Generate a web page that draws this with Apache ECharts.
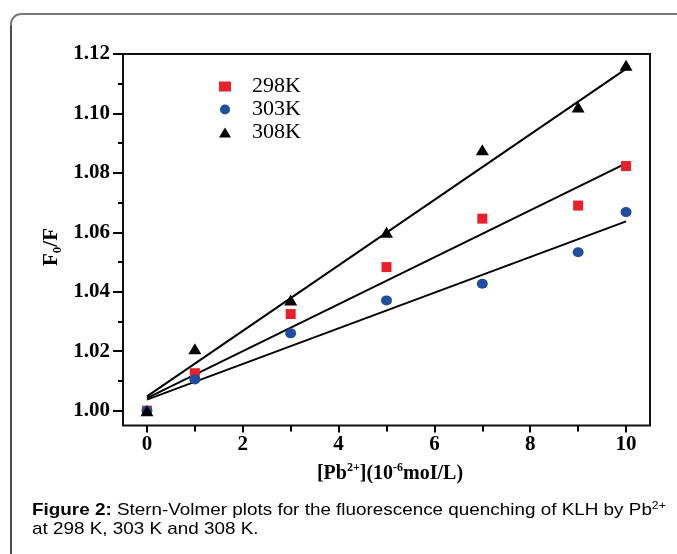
<!DOCTYPE html>
<html>
<head>
<meta charset="utf-8">
<script src="https://cdn.jsdelivr.net/npm/echarts@6/dist/echarts.min.js"></script>
<style>
html,body{margin:0;padding:0;background:#fff;}
#chart{width:677px;height:554px;}
</style>
</head>
<body>
<div id="chart"></div>
<script>
// ---- data ----
const concentrations = [0, 1, 3, 5, 7, 9, 10];
const f298 = [1.000, 1.0126, 1.0325, 1.0483, 1.0646, 1.0690, 1.0823];
const f303 = [1.000, 1.0105, 1.0260, 1.0371, 1.0427, 1.0533, 1.0668];
const f308 = [1.000, 1.0208, 1.0372, 1.0600, 1.0878, 1.1022, 1.1162];
// fitted straight lines, end points
const fitX = [0, 10];
const fit298 = [1.0042, 1.0832];
const fit303 = [1.0037, 1.0637];
const fit308 = [1.0048, 1.1150];
const seriesNames = ['298K', '303K', '308K'];
const xTickLabels = [0, 2, 4, 6, 8, 10];
const xMinorTicks = [1, 3, 5, 7, 9];
const yTickLabels = [1.00, 1.02, 1.04, 1.06, 1.08, 1.10, 1.12];
const yMinorTicks = [1.01, 1.03, 1.05, 1.07, 1.09, 1.11];

const pair = (xs, ys) => xs.map((x, i) => [x, ys[i]]);
const SERIF = 'Liberation Serif';
const SANS = 'Liberation Sans';

const chart = echarts.init(document.getElementById('chart'), null, {renderer: 'canvas'});

const tickStyle = {color: '#000', width: 2};

const option = {
  animation: false,
  backgroundColor: '#fff',
  grid: {
    left: 123, top: 54, right: 27, bottom: 128.5,
    show: true, borderColor: '#111', borderWidth: 2, backgroundColor: 'transparent'
  },
  legend: {
    orient: 'vertical',
    left: 219, top: 75,
    padding: 0,
    itemGap: 0,
    itemWidth: 12, itemHeight: 10,
    textStyle: {fontFamily: SERIF, fontSize: 22, color: '#000', lineHeight: 23, padding: [0, 0, 0, 16]},
    data: [
      {name: seriesNames[0], icon: 'rect'},
      {name: seriesNames[1], icon: 'circle'},
      {name: seriesNames[2], icon: 'triangle'}
    ]
  },
  xAxis: [
    {
      type: 'value', min: -0.5, max: 10.5, position: 'bottom',
      axisLine: {show: false, onZero: false},
      splitLine: {show: false},
      axisTick: {show: true, customValues: xTickLabels, length: 7, lineStyle: tickStyle},
      axisLabel: {customValues: xTickLabels, margin: 9, fontFamily: SERIF, fontWeight: 'bold', fontSize: 21, color: '#000'}
    },
    {
      type: 'value', min: -0.5, max: 10.5, position: 'bottom',
      axisLine: {show: false, onZero: false},
      splitLine: {show: false},
      axisTick: {show: true, customValues: xMinorTicks, length: 6, lineStyle: tickStyle},
      axisLabel: {show: false}
    }
  ],
  yAxis: [
    {
      type: 'value', min: 0.995, max: 1.12, position: 'left',
      axisLine: {show: false, onZero: false},
      splitLine: {show: false},
      axisTick: {show: true, customValues: yTickLabels, length: 10, lineStyle: tickStyle},
      axisLabel: {customValues: yTickLabels, margin: 13, fontFamily: SERIF, fontWeight: 'bold', fontSize: 21, color: '#000',
        formatter: v => v.toFixed(2)}
    },
    {
      type: 'value', min: 0.995, max: 1.12, position: 'left',
      axisLine: {show: false, onZero: false},
      splitLine: {show: false},
      axisTick: {show: true, customValues: yMinorTicks, length: 5, lineStyle: tickStyle},
      axisLabel: {show: false}
    }
  ],
  series: [
    {name: 'fit298', type: 'line', data: pair(fitX, fit298), showSymbol: false, symbol: 'none',
      lineStyle: {color: '#000', width: 2}, z: 2, silent: true},
    {name: 'fit303', type: 'line', data: pair(fitX, fit303), showSymbol: false, symbol: 'none',
      lineStyle: {color: '#000', width: 2}, z: 2, silent: true},
    {name: 'fit308', type: 'line', data: pair(fitX, fit308), showSymbol: false, symbol: 'none',
      lineStyle: {color: '#000', width: 2}, z: 2, silent: true},
    {name: seriesNames[0], type: 'scatter', data: pair(concentrations, f298), symbol: 'rect', symbolSize: [10, 10],
      itemStyle: {color: '#e8202a', opacity: 1}, z: 3},
    {name: seriesNames[1], type: 'scatter', data: pair(concentrations, f303), symbol: 'circle', symbolSize: [11, 10],
      itemStyle: {color: '#1f4e9e', opacity: 1}, z: 4},
    {name: seriesNames[2], type: 'scatter', data: pair(concentrations, f308), symbol: 'triangle', symbolSize: [13, 11],
      itemStyle: {color: '#000', opacity: 1}, z: 5}
  ],
  graphic: [
    // outer frame of the figure panel
    {type: 'rect', x: 11, y: 14, shape: {x: 0, y: 0, width: 720, height: 600, r: 10}, z: -10,
      style: {fill: 'none', stroke: '#7a7a7a', lineWidth: 2}},
    {type: 'line', shape: {x1: 11, y1: 26, x2: 11, y2: 554}, z: -9,
      style: {stroke: '#333', lineWidth: 1.3}},
    // y-axis name F0/F
    {type: 'text', x: 52, y: 247, rotation: Math.PI / 2, z: 10,
      style: {
        text: '{m|F}{s|0}{m|/F}', align: 'center', verticalAlign: 'middle',
        rich: {
          m: {fontFamily: SERIF, fontWeight: 'bold', fontSize: 21, lineHeight: 24, verticalAlign: 'middle', fill: '#000'},
          s: {fontFamily: SERIF, fontWeight: 'bold', fontSize: 13, lineHeight: 12, verticalAlign: 'bottom', fill: '#000'}
        }
      }},
    // x-axis name
    {type: 'text', x: 390, y: 474, z: 10,
      style: {
        text: '{m|[Pb}{p|2+}{m|](10}{p|-6}{m|moI/L)}', align: 'center', verticalAlign: 'middle',
        rich: {
          m: {fontFamily: SERIF, fontWeight: 'bold', fontSize: 20, lineHeight: 24, verticalAlign: 'middle', fill: '#000'},
          p: {fontFamily: SERIF, fontWeight: 'bold', fontSize: 12, lineHeight: 12, verticalAlign: 'top', fill: '#000'}
        }
      }},
    // caption
    {type: 'text', x: 32, y: 510, scaleX: 1.11, z: 10,
      style: {
        text: '{b|Figure 2:}{n| Stern-Volmer plots for the fluorescence quenching of KLH by Pb}{p|2+}',
        align: 'left', verticalAlign: 'middle',
        rich: {
          b: {fontFamily: SANS, fontWeight: 'bold', fontSize: 17, lineHeight: 19, verticalAlign: 'middle', fill: '#000'},
          n: {fontFamily: SANS, fontSize: 17, lineHeight: 19, verticalAlign: 'middle', fill: '#000'},
          p: {fontFamily: SANS, fontSize: 11, lineHeight: 11, verticalAlign: 'top', fill: '#000'}
        }
      }},
    {type: 'text', x: 32, y: 529, scaleX: 1.11, z: 10,
      style: {
        text: 'at 298 K, 303 K and 308 K.', align: 'left', verticalAlign: 'middle',
        fontFamily: SANS, fontSize: 17, fill: '#000'
      }}
  ]
};
chart.setOption(option);
</script>
</body>
</html>
